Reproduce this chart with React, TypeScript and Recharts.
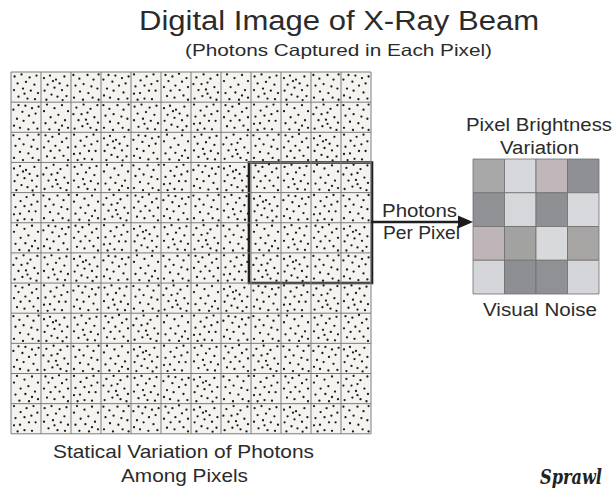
import { ScatterChart, Scatter, XAxis, YAxis, ReferenceArea, ReferenceLine } from 'recharts'

// photon positions inside one pixel (u, v from the cell's top-left), a few hand-read layouts
const PATTERN_0 = [[0.12,0.15],[0.35,0.08],[0.62,0.18],[0.85,0.12],[0.22,0.38],[0.5,0.33],[0.78,0.42],[0.1,0.6],[0.4,0.55],[0.66,0.62],[0.9,0.7],[0.25,0.82],[0.55,0.88],[0.8,0.9],[0.45,0.72]]
const PATTERN_1 = [[0.08,0.1],[0.28,0.22],[0.55,0.1],[0.75,0.25],[0.92,0.08],[0.15,0.45],[0.42,0.4],[0.68,0.48],[0.88,0.55],[0.3,0.65],[0.58,0.7],[0.1,0.85],[0.4,0.92],[0.72,0.85],[0.92,0.92]]
const PATTERN_2 = [[0.2,0.08],[0.45,0.2],[0.7,0.1],[0.9,0.3],[0.1,0.3],[0.32,0.5],[0.58,0.42],[0.8,0.6],[0.15,0.7],[0.48,0.68],[0.7,0.78],[0.28,0.9],[0.6,0.92],[0.9,0.85]]
const PATTERN_3 = [[0.1,0.2],[0.3,0.12],[0.5,0.25],[0.78,0.15],[0.62,0.38],[0.22,0.42],[0.88,0.45],[0.45,0.52],[0.12,0.62],[0.7,0.6],[0.35,0.75],[0.55,0.82],[0.85,0.8],[0.18,0.92],[0.72,0.93],[0.4,0.3]]
const PATTERN_4 = [[0.15,0.1],[0.38,0.15],[0.6,0.06],[0.85,0.2],[0.25,0.3],[0.7,0.32],[0.1,0.5],[0.48,0.45],[0.9,0.5],[0.32,0.62],[0.62,0.6],[0.2,0.8],[0.45,0.85],[0.75,0.78],[0.9,0.92]]
const PATTERN_5 = [[0.08,0.25],[0.25,0.1],[0.48,0.12],[0.7,0.2],[0.92,0.15],[0.38,0.32],[0.6,0.45],[0.2,0.55],[0.82,0.38],[0.42,0.62],[0.75,0.68],[0.1,0.78],[0.3,0.85],[0.58,0.9],[0.88,0.88]]
const PATTERN_6 = [[0.18,0.18],[0.42,0.08],[0.65,0.22],[0.88,0.1],[0.08,0.4],[0.35,0.4],[0.55,0.35],[0.78,0.5],[0.25,0.6],[0.5,0.58],[0.9,0.68],[0.12,0.88],[0.38,0.8],[0.65,0.85],[0.85,0.92],[0.55,0.72]]
const PATTERN_7 = [[0.1,0.08],[0.32,0.28],[0.52,0.15],[0.75,0.08],[0.88,0.3],[0.15,0.48],[0.45,0.45],[0.68,0.4],[0.3,0.7],[0.6,0.62],[0.82,0.62],[0.1,0.72],[0.45,0.88],[0.7,0.9],[0.22,0.92]]
const PATTERNS = [PATTERN_0, PATTERN_1, PATTERN_2, PATTERN_3, PATTERN_4, PATTERN_5, PATTERN_6, PATTERN_7]

// which layout each of the 12x12 pixels uses
const PIXEL_MAP = [
  '031574620315',
  '526103747261',
  '147352061437',
  '360217534026',
  '712645103571',
  '254730612043',
  '603521476315',
  '475016235760',
  '130462751204',
  '561237046153',
  '247605317426',
  '702154360371',
]

// 4x4 brightness of the zoomed pixels
const BRIGHTNESS = [
  ['#a9a8a9', '#d6d8db', '#c0b6b9', '#8e9093'],
  ['#8f9194', '#d5d7da', '#8f9093', '#d8d9dc'],
  ['#bfb5b8', '#a2a2a1', '#d8d9db', '#a6a5a4'],
  ['#d4d6d9', '#8d8f92', '#8f9194', '#d4d6d9'],
]

const W = 616
const H = 491
const GX = 11
const GY = 72
const CW = 30
const CH = 30.15
const N = 12
const PX = 473
const PY = 159
const PW = 31.5
const PH = 33.75
const TXT = '#2b2b2b'
const FONT = '"Liberation Sans", Arial, sans-serif'

const photons = PIXEL_MAP.flatMap((row, r) =>
  row.split('').flatMap((ch, c) =>
    PATTERNS[Number(ch)].map(([u, v]) => ({ x: GX + (c + u) * CW, y: GY + (r + v) * CH })),
  ),
)

const arrowHead = [{ x: 466, y: 222 }]

const Dot = (p: any) => <circle cx={p.cx} cy={p.cy} r={1.15} fill="#1c1c1c" />
const Head = (p: any) => (
  <polygon points={`${p.cx + 7},${p.cy} ${p.cx - 8},${p.cy - 6.5} ${p.cx - 8},${p.cy + 6.5}`} fill="#1c1c1c" />
)

const lines = Array.from({ length: N + 1 }, (_, i) => i)

function T({ x, y, w, size, children }: any) {
  return (
    <text x={x} y={y} fontSize={size} fill={TXT} fontFamily={FONT} textLength={w} lengthAdjust="spacingAndGlyphs">
      {children}
    </text>
  )
}

export default function App() {
  return (
    <div style={{ position: 'absolute', left: 0, top: 0, width: W, height: H, background: '#fff' }}>
      <ScatterChart width={W} height={H} margin={{ top: 0, right: 0, bottom: 0, left: 0 }}>
        <XAxis type="number" dataKey="x" domain={[0, W]} hide />
        <YAxis type="number" dataKey="y" domain={[0, H]} reversed hide />
        <ReferenceArea x1={GX} x2={GX + N * CW} y1={GY} y2={GY + N * CH} fill="#f4f3ef" fillOpacity={1} stroke="none" />
        {lines.map((i) => (
          <ReferenceLine key={'v' + i} segment={[{ x: GX + i * CW, y: GY }, { x: GX + i * CW, y: GY + N * CH }]} stroke="#7c7c7c" strokeWidth={1} />
        ))}
        {lines.map((i) => (
          <ReferenceLine key={'h' + i} segment={[{ x: GX, y: GY + i * CH }, { x: GX + N * CW, y: GY + i * CH }]} stroke="#7c7c7c" strokeWidth={1} />
        ))}
        {BRIGHTNESS.map((row, r) =>
          row.map((col, c) => (
            <ReferenceArea key={`b${r}-${c}`} x1={PX + c * PW} x2={PX + (c + 1) * PW} y1={PY + r * PH} y2={PY + (r + 1) * PH}
              fill={col} fillOpacity={1} stroke="#6e6e6e" strokeWidth={0.8} />
          )),
        )}
        <Scatter data={photons} shape={Dot} isAnimationActive={false} />
        <ReferenceArea x1={GX + 8 * CW - 2} x2={GX + N * CW + 1} y1={GY + 3 * CH} y2={GY + 7 * CH} fill="none" stroke="#1f1f1f" strokeWidth={2.6} />
        <ReferenceLine segment={[{ x: GX + N * CW, y: 222 }, { x: 460, y: 222 }]} stroke="#1f1f1f" strokeWidth={2.4} />
        <Scatter data={arrowHead} shape={Head} isAnimationActive={false} />
        <T x={139} y={30} w={400} size={27}>Digital Image of X-Ray Beam</T>
        <T x={185} y={56} w={307} size={16.5}>(Photons Captured in Each Pixel)</T>
        <T x={466} y={131} w={146} size={18}>Pixel Brightness</T>
        <T x={500} y={154} w={79} size={18}>Variation</T>
        <T x={382} y={217} w={75} size={18}>Photons</T>
        <T x={383} y={239} w={77} size={18}>Per Pixel</T>
        <T x={483} y={316} w={114} size={18}>Visual Noise</T>
        <T x={53} y={458} w={261} size={19}>Statical Variation of Photons</T>
        <T x={121} y={482} w={127} size={19}>Among Pixels</T>
        <text x={540} y={484} fontSize={20} fill="#222" fontFamily='"DejaVu Serif", serif' fontStyle="italic" fontWeight={600}
          textLength={62} lengthAdjust="spacingAndGlyphs">Sprawl</text>
      </ScatterChart>
    </div>
  )
}
